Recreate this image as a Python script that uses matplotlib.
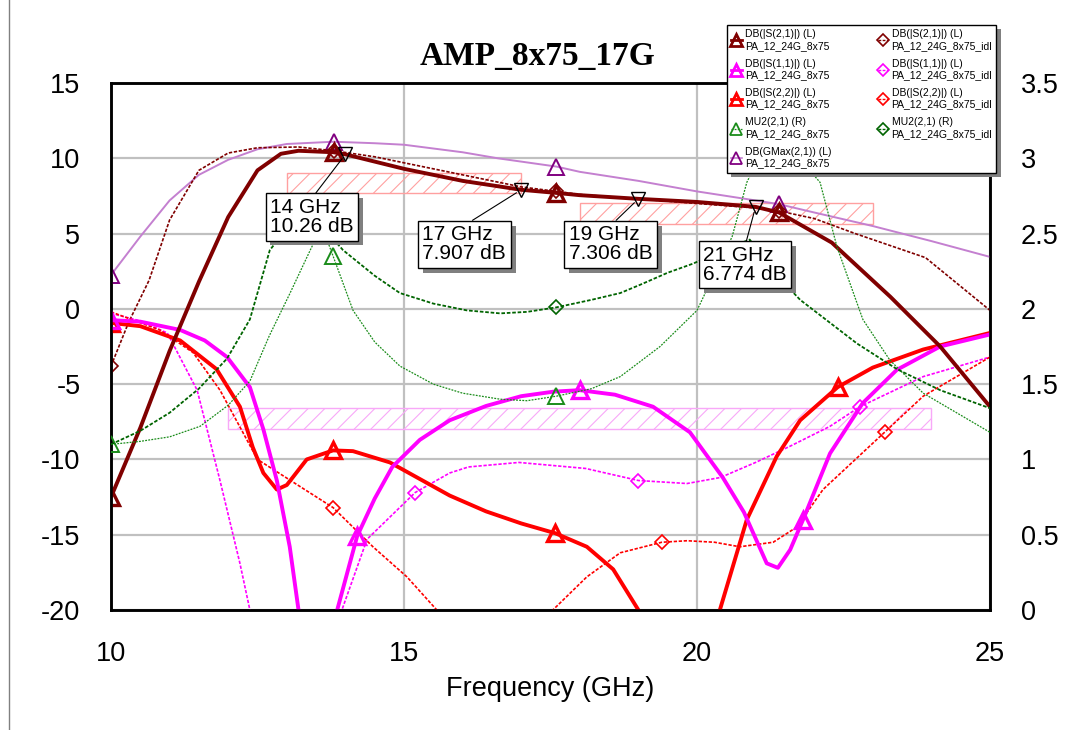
import matplotlib
matplotlib.use('Agg')
import matplotlib.pyplot as plt
from matplotlib.lines import Line2D
from matplotlib.patches import Rectangle
from matplotlib.patheffects import withSimplePatchShadow

plt.rcParams['font.family'] = ['Liberation Sans', 'DejaVu Sans']
plt.rcParams['axes.unicode_minus'] = False
plt.rcParams['hatch.linewidth'] = 0.8

# DB(|S(2,1)|) PA_12_24G_8x75
s21_f = [10, 10.5, 11, 11.5, 12, 12.5, 12.9, 13.2, 13.8, 14, 15, 16, 17, 17.6, 18, 19, 20, 21, 21.4, 22.3, 23.3, 24.15, 25]
s21_db = [-12.5, -7.9, -2.8, 1.8, 6.1, 9.2, 10.3, 10.5, 10.4, 10.26, 9.3, 8.5, 7.907, 7.7, 7.55, 7.306, 7.1, 6.774, 6.4, 4.4, 0.8, -2.5, -6.5]
# DB(|S(2,1)|) PA_12_24G_8x75_idl
s21i_f = [10, 10.3, 10.65, 11, 11.5, 12, 12.5, 13.2, 13.8, 14.5, 15, 16, 17, 17.6, 18, 19, 20, 21, 21.4, 22, 22.7, 23.9, 25]
s21i_db = [-3.8, -0.9, 1.9, 5.9, 9.2, 10.35, 10.7, 10.75, 10.5, 10.1, 9.7, 8.9, 8.1, 7.8, 7.6, 7.3, 7.0, 6.7, 6.5, 6.0, 5.0, 3.4, -0.1]
# DB(GMax(2,1))
gmax_f = [10, 10.5, 11, 11.5, 12, 12.5, 13, 13.8, 14.5, 15, 16, 16.6, 17.6, 18, 19, 20, 21, 21.4, 22, 23, 24, 25]
gmax_db = [2.25, 4.8, 7.2, 8.9, 9.9, 10.6, 10.95, 11.1, 11.0, 10.9, 10.4, 10.0, 9.45, 9.1, 8.5, 7.8, 7.2, 6.95, 6.4, 5.5, 4.5, 3.45]
# DB(|S(1,1)|)
s11_f = [10, 10.5, 11.18, 11.6, 11.98, 12.37, 12.6, 12.83, 13.05, 13.2, 13.45, 13.7, 13.86, 14.2, 14.5, 14.8, 15.27, 15.78, 16.4, 17.0,
         17.55, 18.0, 18.6, 19.25, 19.88, 20.44, 20.8, 21.19, 21.38, 21.59, 21.81, 22.27, 22.83, 23.41, 24.15, 25]
s11_db = [-0.75, -0.85, -1.4, -2.1, -3.2, -5.2, -8.0, -11.4, -15.8, -20.0, -26, -26, -20.0, -15.1, -12.6, -10.5, -8.7, -7.4, -6.45, -5.8,
          -5.5, -5.4, -5.7, -6.5, -8.2, -11.2, -13.5, -16.9, -17.2, -16.0, -14.0, -9.6, -6.25, -4.05, -2.5, -1.7]
s11i_f = [10, 10.5, 10.96, 11.47, 11.86, 12.2, 12.37, 12.6, 13.7, 13.94, 14.37, 15.19, 15.78, 16.1, 16.96, 18.1, 19.0, 19.83, 20.4,
          21.0, 21.6, 22.27, 22.78, 23.86, 25]
s11i_db = [-0.3, -0.8, -1.6, -5.4, -11.4, -16.9, -20.0, -24, -24, -20.0, -15.3, -12.2, -10.9, -10.5, -10.2, -10.6, -11.4, -11.6, -11.2,
           -10.2, -9.1, -7.8, -6.5, -4.5, -3.2]
# DB(|S(2,2)|)
s22_f = [10, 10.5, 11.18, 11.8, 12.2, 12.42, 12.6, 12.83, 13.0, 13.34, 13.79, 14.13, 14.76, 15.27, 15.78, 16.4, 17.0, 17.58, 18.12, 18.57,
         19.0, 19.5, 20.0, 20.39, 20.85, 21.36, 21.76, 22.4, 23.0, 23.86, 25]
s22_db = [-0.93, -1.15, -2.1, -4.0, -6.5, -9.2, -10.9, -12.0, -11.7, -10.0, -9.4, -9.45, -10.2, -11.3, -12.4, -13.45, -14.25, -14.9, -15.8, -17.3,
          -20.0, -25, -25, -20.0, -14.0, -9.8, -7.4, -5.2, -3.9, -2.7, -1.6]
s22i_f = [10, 10.83, 11.4, 11.86, 12.5, 13.79, 14.47, 15.05, 15.56, 16.0, 17.1, 17.54, 18.12, 18.69, 19.4, 19.83, 20.3, 20.73, 21.3, 21.7,
          22.15, 23.2, 23.86, 25]
s22i_db = [-0.2, -1.4, -2.9, -5.4, -10.0, -13.2, -15.8, -17.8, -20.0, -22, -22, -20.0, -17.8, -16.2, -15.5, -15.4, -15.5, -15.8, -15.5, -14.5,
           -12.0, -8.2, -5.8, -3.2]
# MU2(2,1), right axis
mu2_f = [10, 10.5, 11, 11.52, 12.0, 12.37, 12.7, 13.05, 13.4, 13.6, 13.79, 14.13, 14.5, 14.93, 15.5, 16.0, 16.64, 17.1, 17.6, 18.2,
         18.69, 19.37, 20.0, 20.6, 20.85, 21.3, 22.1, 22.39, 22.83, 23.29, 23.86, 25]
mu2 = [1.10, 1.12, 1.15, 1.22, 1.36, 1.52, 1.82, 2.10, 2.39, 2.55, 2.35, 1.99, 1.78, 1.62, 1.50, 1.44, 1.40, 1.39, 1.42, 1.47,
       1.55, 1.75, 1.99, 2.48, 2.84, 3.20, 2.84, 2.41, 1.93, 1.66, 1.44, 1.18]
mu2i_f = [10, 10.5, 11, 11.5, 11.98, 12.37, 12.71, 13.3, 13.96, 14.5, 14.93, 15.5, 16.07, 16.64, 17.1, 17.6, 18.2, 18.69, 19.03,
          19.5, 19.93, 20.5, 20.9, 21.3, 21.76, 22.73, 23.41, 24.15, 25]
mu2i = [1.10, 1.19, 1.31, 1.47, 1.67, 1.93, 2.39, 2.68, 2.39, 2.22, 2.105, 2.035, 1.99, 1.97, 1.98, 2.01, 2.06, 2.105, 2.16,
        2.24, 2.30, 2.40, 2.46, 2.25, 2.06, 1.77, 1.60, 1.46, 1.34]

# marker readouts
mark_f = [14, 17, 19, 21]
mark_db = [10.26, 7.907, 7.306, 6.774]
mark_box = [(13.43, 6.10), (16.03, 4.28), (18.53, 4.28), (20.82, 2.92)]

# goal areas (f1, f2, lo, hi)
goals = [(13, 17, 7.7, 9.02, '#ffa0a0'), (18, 23, 5.65, 7.03, '#ffa0a0'), (12, 24, -7.97, -6.58, '#f8a8f8')]

fig = plt.figure(figsize=(10.86, 7.30), dpi=100)
ax = fig.add_axes([111 / 1086, 1 - 610 / 730, 879 / 1086, 527 / 730])
ax2 = ax.twinx()

for f1, f2, lo, hi, c in goals:
    ax.add_patch(Rectangle((f1, lo), f2 - f1, hi - lo, fill=False, hatch='//', edgecolor=c, lw=1, zorder=1))


def trace(axis, f, v, marks, color, lw, ls, marker, ms, mew, mec=None):
    idx = [f.index(m) for m in marks]
    axis.plot(f, v, color=color, lw=lw, ls=ls, marker=marker, ms=ms, mfc='none',
              mec=mec or color, mew=mew, markevery=idx, solid_joinstyle='round', zorder=3)


dot = (0, (2, 1))
trace(ax, gmax_f, gmax_db, [10, 13.8, 17.6, 21.4], '#c480d0', 1.4, '-', '^', 12, 1.4, '#800080')
trace(ax, s21i_f, s21i_db, [10, 13.8, 17.6, 21.4], '#800000', 1.2, dot, 'D', 7, 1.2)
trace(ax, s11i_f, s11i_db, [15.19, 19.0, 22.78], '#ff00ff', 1.2, dot, 'D', 7, 1.2)
trace(ax, s22i_f, s22i_db, [13.79, 19.4, 23.2], '#ff0000', 1.2, dot, 'D', 7, 1.2)
trace(ax, s22_f, s22_db, [10, 13.79, 17.58, 22.4], '#ff0000', 2.8, '-', '^', 12, 2.4)
trace(ax, s11_f, s11_db, [10, 14.2, 18.0, 21.81], '#ff00ff', 2.8, '-', '^', 12, 2.4)
trace(ax, s21_f, s21_db, [10, 13.8, 17.6, 21.4], '#800000', 2.8, '-', '^', 12, 2.4)
trace(ax2, mu2_f, mu2, [10, 13.79, 17.6], '#1a8c1a', 0.9, (0, (1.5, 1)), '^', 12, 1.4)
trace(ax2, mu2i_f, mu2i, [17.6], '#006400', 1.3, dot, 'D', 7, 1.2)

ax.set_xlim(10, 25)
ax.set_ylim(-20, 15)
ax2.set_ylim(0, 3.5)
ax.set_xticks([10, 15, 20, 25])
ax.set_yticks(range(-20, 16, 5))
ax2.set_yticks([0, 0.5, 1, 1.5, 2, 2.5, 3, 3.5])
ax2.set_yticklabels(['0', '0.5', '1', '1.5', '2', '2.5', '3', '3.5'])
ax.grid(color='#c0c0c0', lw=1.6)
ax.set_axisbelow(True)
ax.tick_params(length=0, labelsize=19.5, pad=22)
ax2.tick_params(length=0, labelsize=19.5, pad=22)
for a in (ax, ax2):
    for s in a.spines.values():
        s.set_linewidth(1.8)
ax.set_xlabel('Frequency (GHz)', fontsize=19.5, labelpad=7)

# marker boxes
for f, d, (bx, by) in zip(mark_f, mark_db, mark_box):
    ax2.plot([f], [d], 'v', ms=10, mfc='none', mec='black', mew=1, transform=ax.transData, zorder=6)
    t = ax2.annotate('%g GHz\n%s dB' % (f, d), xy=(f, d), xycoords=ax.transData,
                     xytext=(bx, by), textcoords=ax.transData, ha='center', va='center', ma='left',
                     fontsize=15, linespacing=1.0, zorder=7,
                     bbox=dict(boxstyle='square,pad=0.22', fc='white', ec='black', lw=1),
                     arrowprops=dict(arrowstyle='-', color='black', lw=0.8, relpos=(0.5, 1.0),
                                     shrinkA=0, shrinkB=4))
    t.get_bbox_patch().set_path_effects([withSimplePatchShadow(offset=(3.5, -3.5), shadow_rgbFace='#808080', alpha=1)])

# legend
handles = [
    Line2D([], [], color='#800000', lw=2, marker='^', ms=9, mfc='none', mew=2),
    Line2D([], [], color='#ff00ff', lw=2, marker='^', ms=9, mfc='none', mew=2),
    Line2D([], [], color='#ff0000', lw=2, marker='^', ms=9, mfc='none', mew=2),
    Line2D([], [], color='#1a8c1a', lw=0.9, ls=(0, (1.5, 1)), marker='^', ms=9, mfc='none', mew=1.3),
    Line2D([], [], color='#c480d0', lw=1.2, marker='^', ms=9, mfc='none', mec='#800080', mew=1.3),
    Line2D([], [], color='#800000', lw=1, ls=dot, marker='D', ms=6, mfc='none', mew=1.2),
    Line2D([], [], color='#ff00ff', lw=1, ls=dot, marker='D', ms=6, mfc='none', mew=1.2),
    Line2D([], [], color='#ff0000', lw=1, ls=dot, marker='D', ms=6, mfc='none', mew=1.2),
    Line2D([], [], color='#006400', lw=1, ls=dot, marker='D', ms=6, mfc='none', mew=1.2),
]
labels = [
    'DB(|S(2,1)|) (L)\nPA_12_24G_8x75',
    'DB(|S(1,1)|) (L)\nPA_12_24G_8x75',
    'DB(|S(2,2)|) (L)\nPA_12_24G_8x75',
    'MU2(2,1) (R)\nPA_12_24G_8x75',
    'DB(GMax(2,1)) (L)\nPA_12_24G_8x75',
    'DB(|S(2,1)|) (L)\nPA_12_24G_8x75_idl',
    'DB(|S(1,1)|) (L)\nPA_12_24G_8x75_idl',
    'DB(|S(2,2)|) (L)\nPA_12_24G_8x75_idl',
    'MU2(2,1) (R)\nPA_12_24G_8x75_idl',
]
leg = fig.legend(handles, labels, loc='upper left', bbox_to_anchor=(727 / 1086, 1 - 25 / 730), ncol=2,
                 prop={'size': 7.5}, fancybox=False, edgecolor='black', framealpha=1, handlelength=1.0,
                 handletextpad=0.3, columnspacing=4.5, labelspacing=0.75, borderpad=0.4, borderaxespad=0)
leg.get_frame().set_linewidth(1)
leg.get_frame().set_path_effects([withSimplePatchShadow(offset=(3, -3), shadow_rgbFace='#808080', alpha=1)])

fig.text(537 / 1086, 1 - 56 / 730, 'AMP_8x75_17G', family=['Liberation Serif', 'DejaVu Serif'],
         weight='bold', fontsize=24, ha='center', va='center')
fig.add_artist(Line2D([9 / 1086, 9 / 1086], [0, 1], transform=fig.transFigure, color='#808080', lw=1))

fig.savefig('out.png', dpi=100)
